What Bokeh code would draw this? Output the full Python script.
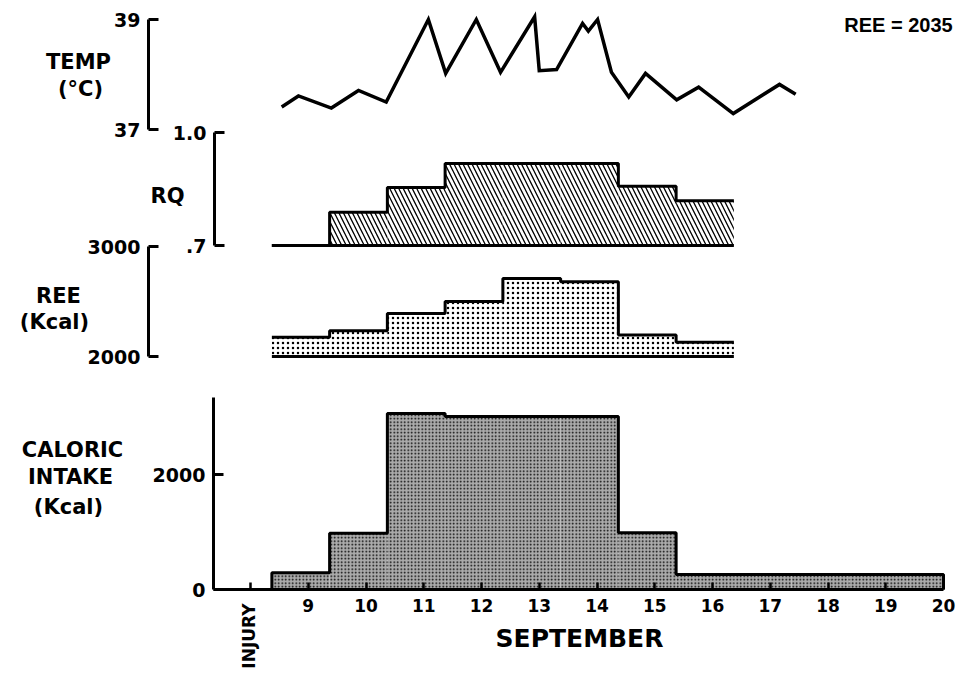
import math
from bokeh.plotting import figure
from bokeh.models import Range1d, LinearAxis, FixedTicker, Label
from bokeh.embed import file_html
from bokeh.resources import INLINE

# ---------------- data ----------------
temp_day = [8.54, 8.83, 9.40, 9.87, 10.35, 11.08, 11.38, 11.91, 12.33, 12.92, 13.00, 13.30,
            13.75, 13.85, 14.01, 14.25, 14.55, 14.84, 15.38, 15.76, 16.36, 17.16, 17.44]
temp_c = [37.41, 37.61, 37.39, 37.71, 37.50, 39.00, 38.02, 39.00, 38.04, 39.05, 38.07, 38.09,
          38.93, 38.79, 39.00, 38.04, 37.59, 38.02, 37.54, 37.77, 37.29, 37.82, 37.64]

period_edges = [8.37, 9.37, 10.37, 11.37, 12.37, 13.37, 14.37, 15.37, 16.37]
rq_values = [0.700, 0.788, 0.854, 0.918, 0.918, 0.918, 0.857, 0.819]
ree_values = [2175, 2235, 2390, 2500, 2710, 2680, 2195, 2130]

intake_edges = [8.37, 9.37, 10.37, 11.37, 12.37, 13.37, 14.37, 15.37, 16.37, 17.37, 18.37, 19.37, 20.0]
intake_values = [290, 980, 3060, 3010, 3010, 3010, 985, 260, 260, 260, 260, 260]

day_ticks = [8, 9, 10, 11, 12, 13, 14, 15, 16, 17, 18, 19, 20]
day_labels = ["", "9", "10", "11", "12", "13", "14", "15", "16", "17", "18", "19", "20"]

temp_ticks = [37, 39]
rq_ticks = [0.7, 1.0]
rq_tick_labels = [".7", "1.0"]
ree_ticks = [2000, 3000]
intake_ticks = [0, 2000]

ree_note = "REE = 2035"

# ---------------- layout helpers (page pixels -> data) ----------------
W, H = 957, 677
TOP, LEFT = 0, 0


def dx(px):
    return 8 + (px - 250) / 57.75


def lin_range(v_a, y_a, v_b, y_b):
    k = (v_a - v_b) / (y_b - y_a)  # value per pixel
    start = v_b - (TOP + H - y_b) * k
    end = v_a + (y_a - TOP) * k
    return Range1d(start=start, end=end)


def dy(py):
    return (589 - py) * 2000 / 115


FONT = "DejaVu Sans"

p = figure(width=W, height=H, output_backend="svg", toolbar_location=None,
           x_axis_type=None, y_axis_type=None, min_border=0,
           x_range=Range1d(dx(LEFT), dx(LEFT + W)),
           y_range=lin_range(2000, 474, 0, 589))
p.min_border_left = p.min_border_right = p.min_border_top = p.min_border_bottom = 0
p.outline_line_color = None
p.xgrid.visible = False
p.ygrid.visible = False
p.background_fill_color = "white"
p.border_fill_color = "white"

p.extra_y_ranges = {
    "temp": lin_range(39, 19, 37, 129),
    "rq": lin_range(1.0, 132, 0.7, 245),
    "ree": lin_range(3000, 246, 2000, 356),
}


def step_xy(edges, vals):
    xs, ys = [], []
    for i, v in enumerate(vals):
        xs += [edges[i], edges[i + 1]]
        ys += [v, v]
    return xs, ys


# ---------------- temperature ----------------
p.line(temp_day, temp_c, y_range_name="temp", line_color="black", line_width=3.5,
       line_join="miter")

# ---------------- RQ ----------------
p.quad(left=period_edges[:-1], right=period_edges[1:], bottom=[0.7] * len(rq_values),
       top=rq_values, y_range_name="rq", fill_color="white", line_color=None,
       hatch_pattern="\\", hatch_color="black", hatch_scale=9, hatch_weight=1.3)
xs, ys = step_xy(period_edges, rq_values)
p.line(xs, ys, y_range_name="rq", line_color="black", line_width=3)
p.line([period_edges[0], period_edges[-1]], [0.7, 0.7], y_range_name="rq",
       line_color="black", line_width=3)

# ---------------- REE ----------------
p.quad(left=period_edges[:-1], right=period_edges[1:], bottom=[2000] * len(ree_values),
       top=ree_values, y_range_name="ree", fill_color="white", line_color=None,
       hatch_pattern=".", hatch_color="black", hatch_scale=5, hatch_weight=1.3)
xs, ys = step_xy(period_edges, ree_values)
p.line(xs, ys, y_range_name="ree", line_color="black", line_width=3)
p.line([period_edges[0], period_edges[-1]], [2000, 2000], y_range_name="ree",
       line_color="black", line_width=3)

# ---------------- caloric intake ----------------
p.quad(left=intake_edges[:-1], right=intake_edges[1:], bottom=[0] * len(intake_values),
       top=intake_values, fill_color="#ababab", line_color=None,
       hatch_pattern=".", hatch_color="black", hatch_scale=3.5, hatch_weight=1.4)
xs, ys = step_xy(intake_edges, intake_values)
xs = [intake_edges[0]] + xs + [intake_edges[-1]]
ys = [0] + ys + [0]
p.line(xs, ys, line_color="black", line_width=3)


# ---------------- axes ----------------
def style_axis(ax, size="19px"):
    ax.axis_line_width = 3
    ax.axis_line_color = "black"
    ax.major_tick_line_width = 3
    ax.major_tick_line_color = "black"
    ax.major_tick_in = 10
    ax.major_tick_out = 0
    ax.minor_tick_line_color = None
    ax.major_label_text_font = FONT
    ax.major_label_text_font_style = "bold"
    ax.major_label_text_font_size = size
    ax.major_label_text_color = "black"
    ax.major_label_standoff = 8


def y_axis(name, loc_px, ticks, bounds, labels=None):
    ax = LinearAxis(y_range_name=name, fixed_location=dx(loc_px), bounds=bounds,
                    ticker=FixedTicker(ticks=ticks))
    style_axis(ax)
    if labels is not None:
        ax.major_label_overrides = {t: s for t, s in zip(ticks, labels)}
    p.add_layout(ax, "left")


y_axis("temp", 148, temp_ticks, (37, 39))
y_axis("rq", 214, rq_ticks, (0.7, 1.0), rq_tick_labels)
y_axis("ree", 148, ree_ticks, (2000, 3000))
y_axis("default", 213, intake_ticks, (0, dy(397)))

xax = LinearAxis(fixed_location=0, bounds=(dx(213), 20), ticker=FixedTicker(ticks=day_ticks))
style_axis(xax, size="17px")
xax.major_tick_in = 7
xax.major_tick_line_width = 2.5
xax.major_label_standoff = 9
xax.major_label_overrides = {t: s for t, s in zip(day_ticks, day_labels)}
p.add_layout(xax, "below")


# ---------------- texts ----------------
def label(text, px, py, size="21px", angle=0.0, align="center", font=FONT):
    p.add_layout(Label(x=dx(px), y=dy(py), text=text, text_font=font,
                       text_font_style="bold", text_font_size=size, text_color="black",
                       text_align=align, text_baseline="middle", angle=angle))


label("TEMP", 78, 61)
label("(°C)", 80, 88)
label("RQ", 167, 195)
label("REE", 58, 295)
label("(Kcal)", 54, 321)
label("CALORIC", 72, 449)
label("INTAKE", 70, 476)
label("(Kcal)", 68, 506)
label(ree_note, 898, 24, size="20px", font="Liberation Sans")
label("SEPTEMBER", 579, 638, size="25px")
label("INJURY", 248, 603, size="17px", angle=math.pi / 2, align="right")

open("out.html", "w").write(file_html(p, INLINE))
